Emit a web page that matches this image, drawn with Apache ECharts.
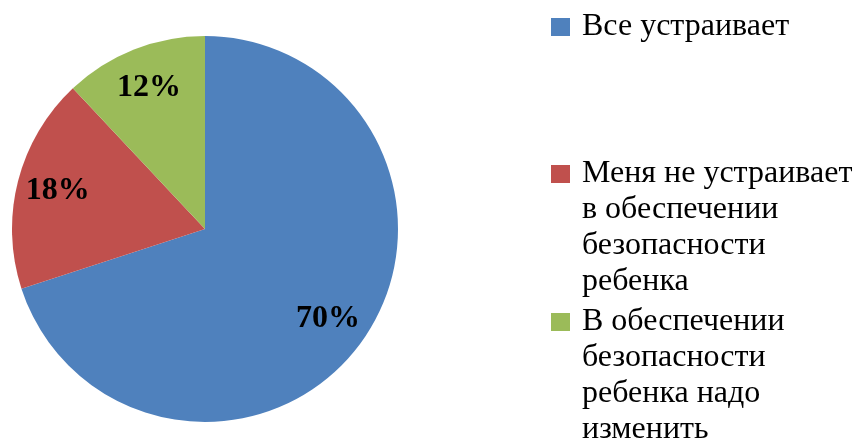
<!DOCTYPE html>
<html>
<head>
<meta charset="utf-8">
<script src="https://cdn.jsdelivr.net/npm/echarts@6/dist/echarts.min.js"></script>
<style>
html,body{margin:0;padding:0;background:#fff;}
#chart{width:856px;height:444px;}
</style>
</head>
<body>
<div id="chart"></div>
<script>
const categories = [
  'Все устраивает',
  'Меня не устраивает\nв обеспечении\nбезопасности\nребенка',
  'В обеспечении\nбезопасности\nребенка надо\nизменить'
];
const values = [70, 18, 12];
const colors = ['#4F81BD', '#C0504D', '#9BBB59'];

const font = 'Liberation Serif, Times New Roman, serif';
const pieData = categories.map((name, i) => ({ name: name, value: values[i], itemStyle: { color: colors[i] } }));
const labelData = categories.map((name, i) => ({ name: name, value: values[i] }));

const richFmt = name => name.split('\n').map(s => '{t|' + s + '}').join('\n');
const rich = { t: { fontFamily: font, fontSize: 32, lineHeight: 36, color: '#000' } };

const chart = echarts.init(document.getElementById('chart'), null, { renderer: 'canvas' });
chart.setOption({
  backgroundColor: '#ffffff',
  animation: false,
  legend: [
    {
      orient: 'vertical', left: 551, top: 9, padding: 0,
      itemWidth: 19, itemHeight: 18, icon: 'rect',
      data: [categories[0]],
      formatter: richFmt,
      textStyle: { fontFamily: font, fontSize: 32, lineHeight: 36, color: '#000', padding: [0, 0, 0, 7], rich: rich },
      selectedMode: false
    },
    {
      orient: 'vertical', left: 551, top: 48, height: 600, padding: 0, itemGap: -104,
      itemWidth: 19, itemHeight: 18, icon: 'rect',
      data: [categories[1], categories[2]],
      formatter: richFmt,
      textStyle: { fontFamily: font, fontSize: 32, lineHeight: 36, color: '#000', padding: [108, 0, 0, 7], rich: rich },
      selectedMode: false
    }
  ],
  series: [
    {
      type: 'pie',
      center: [205, 229],
      radius: 193,
      startAngle: 90,
      clockwise: true,
      label: { show: false },
      labelLine: { show: false },
      emphasis: { disabled: true },
      data: pieData
    },
    {
      type: 'pie',
      center: [205, 229],
      radius: [105, 193],
      startAngle: 90,
      clockwise: true,
      silent: true,
      itemStyle: { color: 'rgba(0,0,0,0)' },
      label: {
        show: true, position: 'inside',
        formatter: '{c}%',
        fontFamily: font, fontSize: 32, fontWeight: 'bold', color: '#000'
      },
      labelLine: { show: false },
      emphasis: { disabled: true },
      data: labelData
    }
  ]
});
</script>
</body>
</html>
